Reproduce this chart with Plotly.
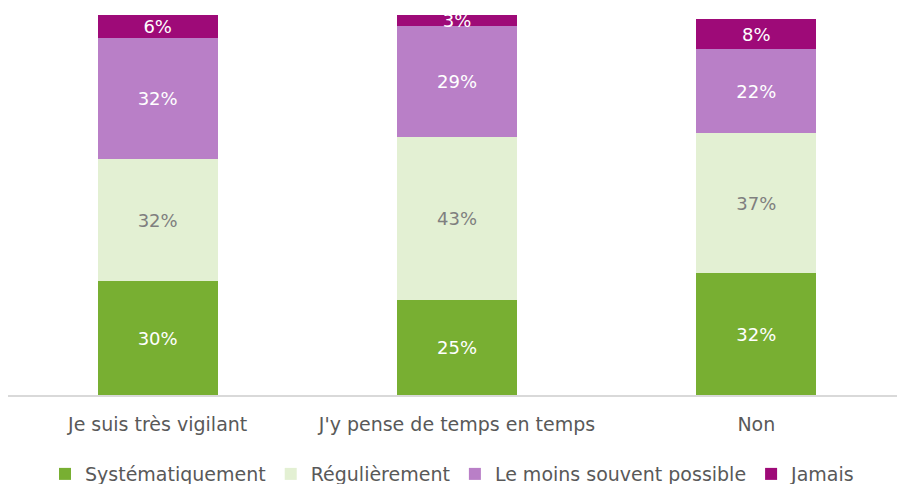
import plotly.graph_objects as go

categories = ["Je suis très vigilant", "J'y pense de temps en temps", "Non"]
series_names = ["Systématiquement", "Régulièrement", "Le moins souvent possible", "Jamais"]
systematiquement = [30, 25, 32]
regulierement = [32, 43, 37]
moins_souvent = [32, 29, 22]
jamais = [6, 3, 8]

values = [systematiquement, regulierement, moins_souvent, jamais]
colors = ["#78AF32", "#E3F0D3", "#B97FC7", "#9E0A78"]
label_colors = ["#FFFFFF", "#7F7F7F", "#FFFFFF", "#FFFFFF"]

font_family = "'DejaVu Sans', sans-serif"

fig = go.Figure()
for name, vals, col, lcol in zip(series_names, values, colors, label_colors):
    fig.add_trace(go.Bar(
        x=categories,
        y=vals,
        name=name,
        marker=dict(color=col, line=dict(width=0)),
        width=0.4,
        text=[f"{v}%" for v in vals],
        textposition="inside",
        insidetextanchor="middle",
        textangle=0,
        textfont=dict(color=lcol, size=18, family=font_family),
        hoverinfo="skip",
    ))

fig.update_layout(
    barmode="stack",
    width=897,
    height=484,
    margin=dict(l=8, r=0, t=15, b=89, autoexpand=False),
    paper_bgcolor="white",
    plot_bgcolor="white",
    uniformtext=dict(minsize=18, mode="show"),
    font=dict(family=font_family, color="#595959", size=19),
    xaxis=dict(
        range=[-0.5, 2.47],
        showline=True,
        linecolor="#D9D9D9",
        linewidth=1.5,
        showgrid=False,
        ticks="",
        ticklabelstandoff=11,
        tickfont=dict(size=19, color="#595959"),
    ),
    yaxis=dict(
        range=[0, 100],
        visible=False,
        showgrid=False,
    ),
    legend=dict(
        orientation="h",
        x=0.5,
        xanchor="center",
        y=-0.208,
        yanchor="middle",
        font=dict(size=19, color="#595959"),
        itemwidth=30,
        traceorder="normal",
    ),
    showlegend=True,
)

fig.write_html("out.html")
